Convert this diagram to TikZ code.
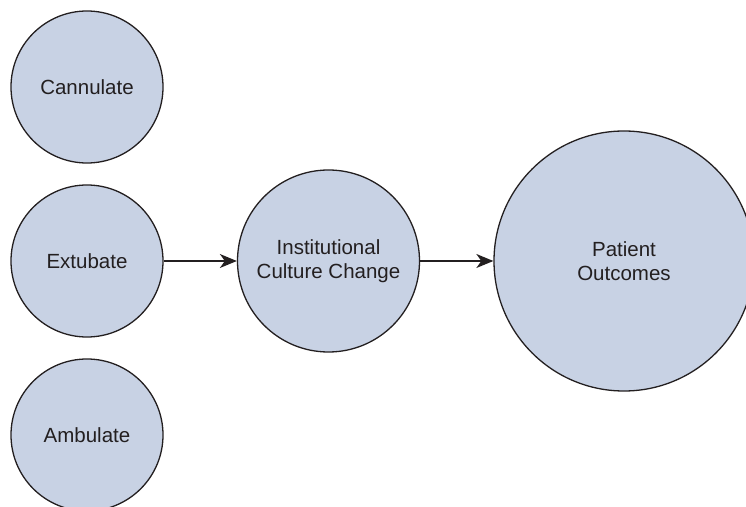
\documentclass[tikz,border=0pt]{standalone}
\usepackage{fontspec}
\setmainfont{Liberation Sans}
\usetikzlibrary{arrows.meta}
\definecolor{circfill}{RGB}{200,210,228}
\definecolor{inkgray}{RGB}{35,31,32}

\tikzset{
  stage/.style={circle, draw=inkgray, line width=1.3pt, fill=circfill,
    text=inkgray, align=center, inner sep=0pt,
    font=\fontsize{20.5}{24}\selectfont},
  small/.style={stage, minimum size=152pt},
  mid/.style={stage, minimum size=182pt},
  big/.style={stage, minimum size=260pt},
  link/.style={draw=inkgray, line width=1.3pt,
    -{Stealth[length=17pt,width=14pt,inset=5pt]}}
}

\begin{document}
\begin{tikzpicture}[x=1pt,y=1pt]
  \useasboundingbox (0,0) rectangle (746,506);
  \node[small] (can) at (87,419) {Cannulate};
  \node[small] (ext) at (87,245) {Extubate};
  \node[small] (amb) at (87,71)  {Ambulate};
  \node[mid]   (icc) at (328.5,245) {Institutional\\Culture Change};
  \node[big]   (pat) at (624,245) {Patient\\Outcomes};
  \draw[link] (ext) -- (icc);
  \draw[link] (icc) -- (pat);
\end{tikzpicture}
\end{document}
